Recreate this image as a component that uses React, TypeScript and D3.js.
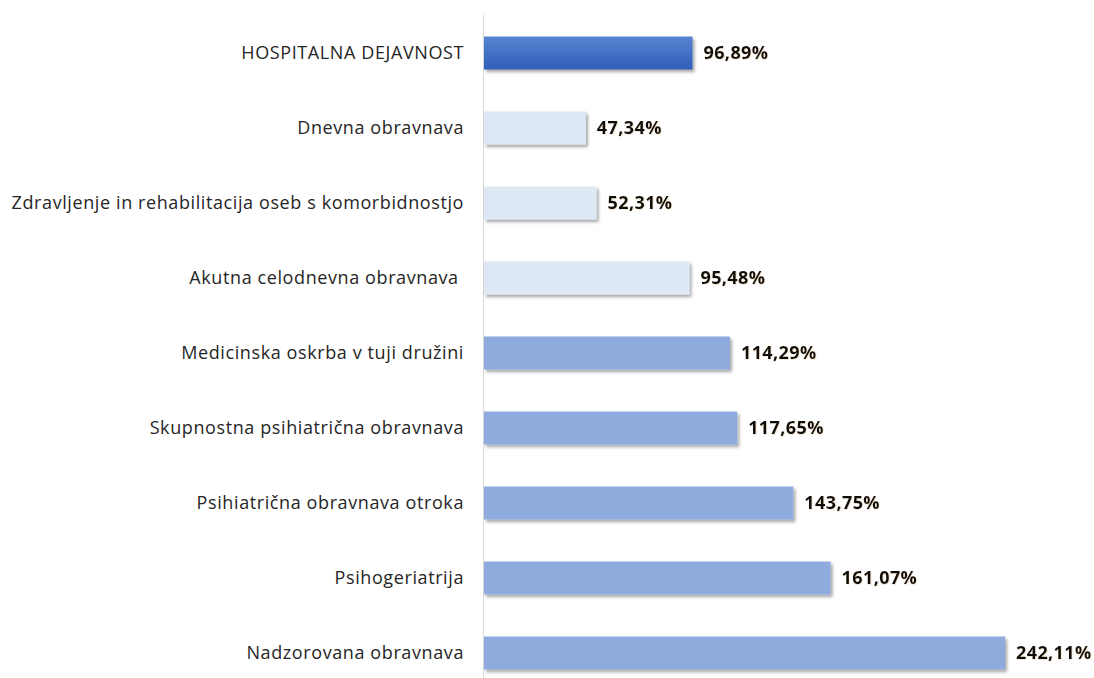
import React from "react";
import * as d3 from "d3";

const categories = [
  "HOSPITALNA DEJAVNOST",
  "Dnevna obravnava",
  "Zdravljenje in rehabilitacija oseb s komorbidnostjo",
  "Akutna celodnevna obravnava ",
  "Medicinska oskrba v tuji družini",
  "Skupnostna psihiatrična obravnava",
  "Psihiatrična obravnava otroka",
  "Psihogeriatrija",
  "Nadzorovana obravnava",
];
const values = [96.89, 47.34, 52.31, 95.48, 114.29, 117.65, 143.75, 161.07, 242.11];
const groups = ["total", "low", "low", "low", "high", "high", "high", "high", "high"];

const W = 1094;
const H = 678;
const axisX = 484;

export default function App() {
  const x = d3.scaleLinear().domain([0, 242.11]).range([axisX, 1005]);
  const y = d3.scaleBand<string>().domain(categories).range([15.5, 690.5]).paddingInner(0.56).paddingOuter(0.28);
  const fmt = (v: number) => v.toFixed(2).replace(".", ",") + "%";
  const fill = (g: string) => (g === "total" ? "url(#gTotal)" : g === "low" ? "#DEE8F5" : "#8FAADC");
  return (
    <svg width={W} height={H} style={{ position: "absolute", left: 0, top: 0, background: "#fff" }}>
      <defs>
        <linearGradient id="gTotal" x1="0" y1="0" x2="0" y2="1">
          <stop offset="0%" stopColor="#5884D2" />
          <stop offset="100%" stopColor="#2F5EB9" />
        </linearGradient>
        <filter id="shadow" x="-5%" y="-20%" width="115%" height="160%">
          <feDropShadow dx="2" dy="2.5" stdDeviation="1.5" floodColor="#000" floodOpacity="0.35" />
        </filter>
        <filter id="glow" x="-10%" y="-30%" width="120%" height="160%">
          <feDropShadow dx="0.5" dy="0.5" stdDeviation="0.6" floodColor="#c9a36a" floodOpacity="0.5" />
        </filter>
      </defs>
      <line x1={axisX - 0.5} x2={axisX - 0.5} y1={15} y2={H} stroke="#D9D9D9" strokeWidth={1} />
      {categories.map((c, i) => {
        const by = y(c)!;
        const bh = y.bandwidth();
        const xe = x(values[i]);
        return (
          <g key={c}>
            <rect x={axisX} y={by} width={xe - axisX} height={bh} fill={fill(groups[i])} filter="url(#shadow)" />
            <text
              x={464}
              y={by + bh / 2}
              dy="0.35em"
              textAnchor="end"
              fontFamily="'Open Sans', sans-serif"
              fontSize={18}
              letterSpacing={0.6}
              fill="#262626"
              style={{ whiteSpace: "pre" }}
            >
              {c}
            </text>
            <text
              x={xe + 11}
              y={by + bh / 2}
              dy="0.35em"
              fontFamily="'Open Sans', sans-serif"
              fontWeight="bold"
              fontSize={18}
              letterSpacing={0.4}
              fill="#0d0d0d"
              filter="url(#glow)"
            >
              {fmt(values[i])}
            </text>
          </g>
        );
      })}
    </svg>
  );
}
